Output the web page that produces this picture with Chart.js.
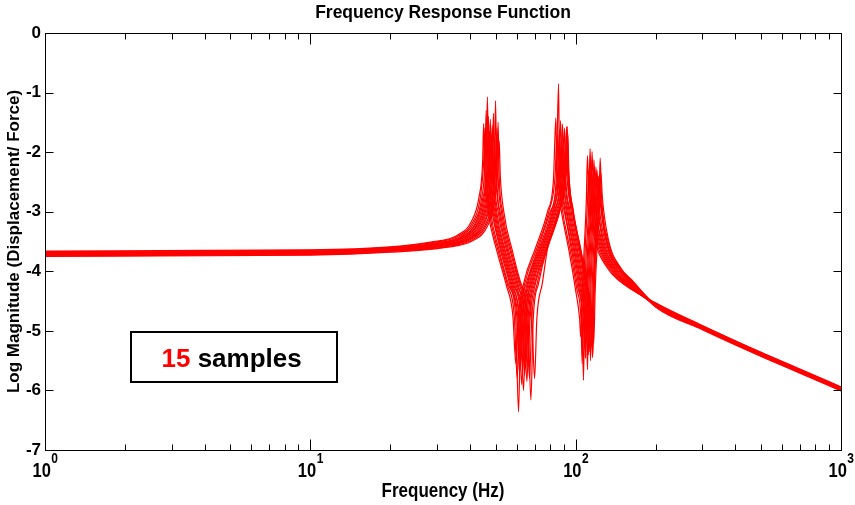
<!DOCTYPE html>
<html>
<head>
<meta charset="utf-8">
<title>Frequency Response Function</title>
<script src="https://cdn.jsdelivr.net/npm/chart.js@4.4.1/dist/chart.umd.min.js"></script>
<style>
  html, body { margin: 0; padding: 0; background: #fff; }
  canvas { display: block; }
</style>
</head>
<body>
<canvas id="frfChart" width="855" height="505"></canvas>
<script>
// axis ticks
const xDecades = [1, 10, 100, 1000];
const xExponents = ['0', '1', '2', '3'];
const minorSteps = [1, 2, 3, 4, 5, 6, 7, 8, 9];
const yTicks = [0, -1, -2, -3, -4, -5, -6, -7];

const sampleFreqs = [
    [1, 10, 20, 28.4, 36.0, 40.5, 43.2, 44.6, 45.0, 45.5, 46.8, 50.4, 54.9, 58.0, 59.5, 60.7, 63.7, 70.7, 78.3, 82.5, 84.2, 84.9, 88.0, 94.3, 99.8, 103.5, 104.5, 105.9, 109.7, 110.8, 112.1, 118.0, 131.9, 145.1, 200, 300, 500, 700, 1000],
    [1, 10, 20, 28.7, 36.4, 41.0, 43.7, 45.0, 45.5, 46.0, 47.3, 51.0, 55.5, 58.7, 60.2, 61.4, 64.4, 71.6, 79.2, 83.5, 85.2, 85.9, 89.0, 95.4, 101.0, 104.7, 105.8, 107.2, 110.9, 112.0, 113.3, 119.3, 133.3, 146.7, 200, 300, 500, 700, 1000],
    [1, 10, 20, 29.0, 36.8, 41.4, 44.2, 45.5, 46.0, 46.5, 47.8, 51.5, 56.1, 59.4, 60.9, 62.1, 65.2, 72.4, 80.2, 84.5, 86.2, 86.9, 90.1, 96.5, 102.2, 105.9, 107.0, 108.4, 112.2, 113.3, 114.7, 120.7, 134.8, 148.4, 200, 300, 500, 700, 1000],
    [1, 10, 20, 29.3, 37.2, 41.9, 44.6, 46.0, 46.5, 47.0, 48.4, 52.1, 56.7, 60.0, 61.5, 62.7, 65.8, 73.1, 80.9, 85.3, 87.0, 87.7, 90.9, 97.4, 103.1, 106.9, 108.0, 109.4, 113.2, 114.3, 115.7, 121.7, 136.0, 149.7, 200, 300, 500, 700, 1000],
    [1, 10, 20, 29.5, 37.5, 42.2, 45.0, 46.4, 46.9, 47.4, 48.8, 52.5, 57.2, 60.5, 62.0, 63.2, 66.3, 73.8, 81.7, 86.0, 87.8, 88.5, 91.8, 98.3, 104.0, 107.8, 108.9, 110.3, 114.1, 115.3, 116.7, 122.8, 137.2, 151.0, 200, 300, 500, 700, 1000],
    [1, 10, 20, 29.8, 37.8, 42.6, 45.4, 46.8, 47.3, 47.8, 49.2, 53.0, 57.7, 61.0, 62.6, 63.9, 67.0, 74.3, 82.3, 86.7, 88.5, 89.2, 92.5, 99.1, 104.9, 108.7, 109.8, 111.2, 115.0, 116.2, 117.6, 123.8, 138.3, 152.2, 200, 300, 500, 700, 1000],
    [1, 10, 20, 30.1, 38.2, 42.9, 45.8, 47.2, 47.7, 48.2, 49.6, 53.4, 58.2, 61.5, 63.1, 64.4, 67.5, 75.0, 83.0, 87.5, 89.3, 90.0, 93.3, 100.0, 105.8, 109.7, 110.8, 112.2, 116.0, 117.2, 118.6, 124.8, 139.5, 153.5, 200, 300, 500, 700, 1000],
    [1, 10, 20, 30.3, 38.5, 43.3, 46.2, 47.6, 48.1, 48.6, 50.0, 53.9, 58.7, 62.0, 63.6, 64.9, 68.1, 75.6, 83.7, 88.2, 90.0, 90.7, 94.1, 100.8, 106.7, 110.6, 111.7, 113.2, 117.0, 118.2, 119.6, 125.9, 140.7, 154.8, 200, 300, 500, 700, 1000],
    [1, 10, 20, 30.6, 38.8, 43.7, 46.6, 48.0, 48.5, 49.0, 50.4, 54.3, 59.2, 62.6, 64.2, 65.5, 68.7, 76.3, 84.4, 89.0, 90.8, 91.5, 94.9, 101.7, 107.5, 111.5, 112.6, 114.1, 118.0, 119.2, 120.6, 126.9, 141.8, 156.2, 200, 300, 500, 700, 1000],
    [1, 10, 20, 30.9, 39.2, 44.1, 47.0, 48.5, 49.0, 49.5, 51.0, 54.9, 59.8, 63.2, 64.8, 66.1, 69.3, 77.0, 85.3, 89.9, 91.7, 92.4, 95.8, 102.7, 108.7, 112.7, 113.8, 115.3, 119.2, 120.4, 121.8, 128.2, 143.3, 157.7, 200, 300, 500, 700, 1000],
    [1, 10, 20, 31.2, 39.6, 44.6, 47.5, 49.0, 49.5, 50.0, 51.5, 55.4, 60.4, 63.9, 65.5, 66.8, 70.1, 77.7, 86.0, 90.7, 92.5, 93.2, 96.7, 103.6, 109.6, 113.7, 114.8, 116.3, 120.4, 121.6, 123.1, 129.5, 144.7, 159.3, 200, 300, 500, 700, 1000],
    [1, 10, 20, 31.4, 39.9, 44.9, 47.9, 49.4, 49.9, 50.4, 51.9, 55.9, 60.9, 64.4, 66.0, 67.3, 70.6, 78.4, 86.8, 91.4, 93.3, 94.0, 97.5, 104.5, 110.6, 114.6, 115.8, 117.3, 121.4, 122.6, 124.1, 130.6, 145.9, 160.6, 200, 300, 500, 700, 1000],
    [1, 10, 20, 31.8, 40.4, 45.5, 48.5, 50.0, 50.5, 51.0, 52.5, 56.6, 61.6, 65.3, 67.0, 68.3, 71.7, 78.0, 86.4, 91.0, 92.9, 93.6, 97.1, 104.0, 110.1, 114.1, 115.3, 116.8, 121.0, 122.2, 123.7, 130.1, 145.4, 160.1, 200, 300, 500, 700, 1000],
    [1, 10, 20, 32.1, 40.8, 45.9, 49.0, 50.5, 51.0, 51.5, 53.0, 57.1, 62.2, 66.1, 67.8, 69.2, 72.5, 78.1, 86.5, 91.1, 93.0, 93.7, 97.2, 104.2, 110.8, 114.8, 116.0, 117.5, 122.5, 123.7, 125.2, 131.7, 147.2, 162.0, 200, 300, 500, 700, 1000],
    [1, 10, 20, 32.4, 41.2, 46.4, 49.4, 51.0, 51.5, 52.0, 53.6, 57.7, 62.8, 68.3, 70.0, 71.4, 74.9, 78.5, 87.0, 91.6, 93.5, 94.2, 97.7, 104.7, 111.7, 115.8, 117.0, 118.5, 123.3, 124.5, 126.0, 132.6, 148.2, 163.1, 200, 300, 500, 700, 1000]
];

const sampleMags = [
    [-3.66, -3.64, -3.59, -3.51, -3.39, -3.16, -2.76, -2.16, -1.52, -2.4, -3.0, -3.65, -4.25, -4.75, -5.55, -4.8, -4.2, -3.6, -3.0, -2.45, -1.43, -2.3, -2.95, -3.65, -4.3, -4.8, -5.10, -4.3, -2.8, -2.06, -2.75, -3.45, -3.95, -4.15, -4.53, -4.91, -5.36, -5.64, -5.94],
    [-3.67, -3.65, -3.60, -3.52, -3.40, -3.17, -2.77, -2.17, -1.60, -2.4, -3.0, -3.65, -4.25, -4.75, -5.80, -4.8, -4.2, -3.6, -3.0, -2.45, -1.70, -2.3, -2.95, -3.65, -4.3, -4.8, -5.55, -4.3, -2.8, -2.30, -2.75, -3.45, -3.95, -4.15, -4.54, -4.92, -5.37, -5.65, -5.95],
    [-3.68, -3.66, -3.61, -3.53, -3.41, -3.18, -2.78, -2.18, -1.30, -2.4, -3.0, -3.65, -4.25, -4.75, -6.36, -4.8, -4.2, -3.6, -3.0, -2.45, -0.85, -2.3, -2.95, -3.65, -4.3, -4.8, -5.83, -4.3, -2.8, -1.94, -2.75, -3.45, -3.95, -4.15, -4.55, -4.93, -5.38, -5.66, -5.96],
    [-3.69, -3.67, -3.62, -3.54, -3.42, -3.19, -2.79, -2.19, -1.07, -2.4, -3.0, -3.65, -4.25, -4.75, -5.70, -4.8, -4.2, -3.6, -3.0, -2.45, -1.62, -2.3, -2.95, -3.65, -4.3, -4.8, -5.30, -4.3, -2.8, -2.20, -2.75, -3.45, -3.95, -4.15, -4.56, -4.94, -5.39, -5.67, -5.97],
    [-3.69, -3.67, -3.62, -3.54, -3.42, -3.19, -2.79, -2.19, -1.40, -2.4, -3.0, -3.65, -4.25, -4.75, -5.60, -4.8, -4.2, -3.6, -3.0, -2.45, -1.47, -2.3, -2.95, -3.65, -4.3, -4.8, -5.46, -4.3, -2.8, -1.99, -2.75, -3.45, -3.95, -4.15, -4.54, -4.92, -5.37, -5.65, -5.95],
    [-3.70, -3.68, -3.63, -3.55, -3.43, -3.20, -2.80, -2.20, -1.65, -2.4, -3.0, -3.65, -4.25, -4.75, -5.90, -4.8, -4.2, -3.6, -3.0, -2.45, -1.80, -2.3, -2.95, -3.65, -4.3, -4.8, -5.20, -4.3, -2.8, -2.35, -2.75, -3.45, -3.95, -4.15, -4.57, -4.95, -5.40, -5.68, -5.98],
    [-3.70, -3.68, -3.63, -3.55, -3.43, -3.20, -2.80, -2.20, -1.45, -2.4, -3.0, -3.65, -4.25, -4.75, -5.50, -4.8, -4.2, -3.6, -3.0, -2.45, -1.53, -2.3, -2.95, -3.65, -4.3, -4.8, -5.65, -4.3, -2.8, -2.13, -2.75, -3.45, -3.95, -4.15, -4.55, -4.93, -5.38, -5.66, -5.96],
    [-3.71, -3.69, -3.64, -3.56, -3.44, -3.21, -2.81, -2.21, -1.70, -2.4, -3.0, -3.65, -4.25, -4.75, -6.00, -4.8, -4.2, -3.6, -3.0, -2.45, -1.75, -2.3, -2.95, -3.65, -4.3, -4.8, -5.40, -4.3, -2.8, -2.40, -2.75, -3.45, -3.95, -4.15, -4.58, -4.96, -5.41, -5.69, -5.99],
    [-3.71, -3.69, -3.64, -3.56, -3.44, -3.21, -2.81, -2.21, -1.55, -2.4, -3.0, -3.65, -4.25, -4.75, -5.75, -4.8, -4.2, -3.6, -3.0, -2.45, -1.60, -2.3, -2.95, -3.65, -4.3, -4.8, -5.35, -4.3, -2.8, -2.25, -2.75, -3.45, -3.95, -4.15, -4.56, -4.94, -5.39, -5.67, -5.97],
    [-3.72, -3.70, -3.65, -3.57, -3.45, -3.22, -2.82, -2.22, -1.35, -2.4, -3.0, -3.65, -4.25, -4.75, -5.65, -4.8, -4.2, -3.6, -3.0, -2.45, -1.90, -2.3, -2.95, -3.65, -4.3, -4.8, -5.50, -4.3, -2.8, -2.30, -2.75, -3.45, -3.95, -4.15, -4.59, -4.97, -5.42, -5.70, -6.00],
    [-3.72, -3.70, -3.65, -3.57, -3.45, -3.22, -2.82, -2.22, -1.75, -2.4, -3.0, -3.65, -4.25, -4.75, -5.85, -4.8, -4.2, -3.6, -3.0, -2.45, -1.57, -2.3, -2.95, -3.65, -4.3, -4.8, -5.25, -4.3, -2.8, -2.45, -2.75, -3.45, -3.95, -4.15, -4.57, -4.95, -5.40, -5.68, -5.98],
    [-3.73, -3.71, -3.66, -3.58, -3.46, -3.23, -2.83, -2.23, -1.14, -2.4, -3.0, -3.65, -4.25, -4.75, -5.60, -4.8, -4.2, -3.6, -3.0, -2.45, -1.85, -2.3, -2.95, -3.65, -4.3, -4.8, -5.45, -4.3, -2.8, -2.50, -2.75, -3.45, -3.95, -4.15, -4.60, -4.98, -5.43, -5.71, -6.01],
    [-3.73, -3.71, -3.66, -3.58, -3.46, -3.23, -2.83, -2.23, -1.60, -2.4, -3.0, -3.65, -4.25, -4.75, -5.80, -4.8, -4.2, -3.6, -3.0, -2.45, -1.95, -2.3, -2.95, -3.65, -4.3, -4.8, -5.30, -4.3, -2.8, -2.40, -2.75, -3.45, -3.95, -4.15, -4.58, -4.96, -5.41, -5.69, -5.99],
    [-3.74, -3.72, -3.67, -3.59, -3.47, -3.24, -2.84, -2.24, -1.50, -2.4, -3.0, -3.65, -4.25, -4.75, -6.16, -4.8, -4.2, -3.6, -3.0, -2.45, -1.57, -2.3, -2.95, -3.65, -4.3, -4.8, -5.40, -4.3, -2.8, -2.10, -2.75, -3.45, -3.95, -4.15, -4.56, -4.94, -5.39, -5.67, -5.97],
    [-3.75, -3.73, -3.68, -3.60, -3.48, -3.25, -2.85, -2.25, -1.82, -2.4, -3.0, -3.65, -4.25, -4.75, -5.80, -4.8, -4.2, -3.6, -3.0, -2.45, -1.70, -2.3, -2.95, -3.65, -4.3, -4.8, -5.20, -4.3, -2.8, -2.35, -2.75, -3.45, -3.95, -4.15, -4.58, -4.96, -5.41, -5.69, -5.99]
];

const FONT = '"Liberation Sans", Arial, Helvetica, sans-serif';

// datasets built from the arrays above
const datasets = sampleFreqs.map((freqs, i) => ({
    label: 'Sample ' + (i + 1),
    data: freqs.map((f, j) => ({ x: f, y: sampleMags[i][j] })),
    borderColor: '#ff0000',
    borderWidth: 1.2,
    pointRadius: 0,
    fill: false,
    cubicInterpolationMode: 'monotone'
}));

// text squeezed a bit horizontally, like the original export
function stretchedText(ctx, text, x, y, sy) {
    ctx.save();
    ctx.translate(x, y);
    ctx.scale(1, sy);
    ctx.fillText(text, 0, 0);
    ctx.restore();
}

// box frame, inward ticks, labels and the annotation
const frfAxesPlugin = {
    id: 'frfAxes',
    afterDatasetsDraw(chart) {
        const ctx = chart.ctx;
        const area = chart.chartArea;
        const xScale = chart.scales.x;
        const yScale = chart.scales.y;
        const L = Math.round(area.left) + 0.5;
        const R = Math.round(area.right) + 0.5;
        const T = Math.round(area.top) + 0.5;
        const B = Math.round(area.bottom) + 0.5;

        ctx.save();
        ctx.strokeStyle = '#000';
        ctx.lineWidth = 1;
        ctx.beginPath();
        xDecades.forEach(d => {
            minorSteps.forEach(m => {
                const f = d * m;
                if (f > 1000) return;
                const px = Math.round(xScale.getPixelForValue(f)) + 0.5;
                const len = m === 1 ? 11 : 6;
                ctx.moveTo(px, B); ctx.lineTo(px, B - len);
                ctx.moveTo(px, T); ctx.lineTo(px, T + len);
            });
        });
        yTicks.forEach(v => {
            const py = Math.round(yScale.getPixelForValue(v)) + 0.5;
            ctx.moveTo(L, py); ctx.lineTo(L + 8, py);
            ctx.moveTo(R, py); ctx.lineTo(R - 8, py);
        });
        ctx.stroke();
        ctx.strokeRect(L, T, R - L, B - T);

        ctx.fillStyle = '#000';

        // y tick labels
        ctx.font = 'bold 17px ' + FONT;
        ctx.textAlign = 'right';
        ctx.textBaseline = 'middle';
        yTicks.forEach(v => {
            ctx.fillText(String(v), area.left - 4, yScale.getPixelForValue(v));
        });

        // x tick labels 10^n
        ctx.textAlign = 'left';
        ctx.textBaseline = 'alphabetic';
        xDecades.forEach((d, i) => {
            const px = xScale.getPixelForValue(d);
            ctx.font = 'bold 16.5px ' + FONT;
            const wBase = ctx.measureText('10').width;
            ctx.font = 'bold 12px ' + FONT;
            const wExp = ctx.measureText(xExponents[i]).width;
            const x0 = px - (wBase + wExp) / 2;
            ctx.font = 'bold 16.5px ' + FONT;
            stretchedText(ctx, '10', x0, 477, 1.2);
            ctx.font = 'bold 12px ' + FONT;
            stretchedText(ctx, xExponents[i], x0 + wBase + 0.5, 463, 1.15);
        });

        // titles
        const cx = (area.left + area.right) / 2;
        ctx.textAlign = 'center';
        ctx.font = 'bold 17.5px ' + FONT;
        ctx.fillText('Frequency Response Function', cx, 18);
        ctx.font = 'bold 17px ' + FONT;
        stretchedText(ctx, 'Frequency (Hz)', cx, 497, 1.15);

        ctx.save();
        ctx.translate(19, (area.top + area.bottom) / 2);
        ctx.rotate(-Math.PI / 2);
        ctx.font = 'bold 17px ' + FONT;
        ctx.fillText('Log Magnitude (Displacement/ Force)', 0, 0);
        ctx.restore();

        // "15 samples" box
        ctx.fillStyle = '#fff';
        ctx.fillRect(131, 332, 206, 50);
        ctx.lineWidth = 2;
        ctx.strokeStyle = '#000';
        ctx.strokeRect(131, 332, 206, 50);
        ctx.font = 'bold 26px ' + FONT;
        ctx.textAlign = 'left';
        const countText = String(sampleFreqs.length);
        ctx.fillStyle = '#ff0000';
        ctx.fillText(countText, 161.5, 366.5);
        const wCount = ctx.measureText(countText + ' ').width;
        ctx.fillStyle = '#000';
        ctx.fillText('samples', 161.5 + wCount, 366.5);
        ctx.restore();
    }
};

const frfCtx = document.getElementById('frfChart').getContext('2d');
new Chart(frfCtx, {
    type: 'line',
    data: { datasets: datasets },
    options: {
        responsive: false,
        animation: false,
        events: [],
        layout: {
            padding: { left: 45, right: 14, top: 33, bottom: 55 }
        },
        plugins: {
            legend: { display: false },
            tooltip: { enabled: false }
        },
        scales: {
            x: { type: 'logarithmic', min: 1, max: 1000, display: false },
            y: { type: 'linear', min: -7, max: 0, display: false }
        }
    },
    plugins: [frfAxesPlugin]
});
</script>
</body>
</html>
